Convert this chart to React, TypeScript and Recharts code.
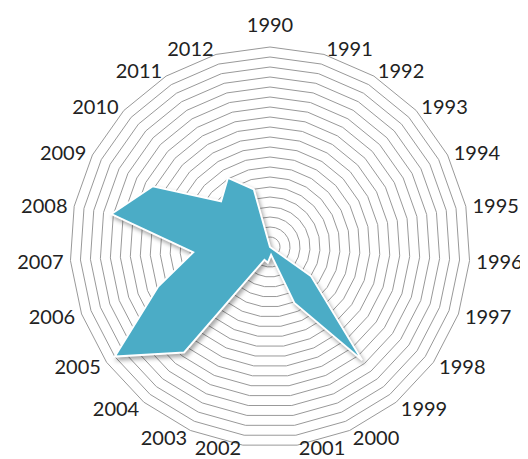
import { PolarAngleAxis, PolarGrid, PolarRadiusAxis, Radar, RadarChart } from 'recharts'

const years = [
  '1990', '1991', '1992', '1993', '1994', '1995', '1996', '1997', '1998', '1999', '2000', '2001',
  '2002', '2003', '2004', '2005', '2006', '2007', '2008', '2009', '2010', '2011', '2012',
]
const values = [0, 0, 0, 0, 0, 0, 0, 0, 50, 146, 61, 8, 16, 14, 136, 190, 119, 77, 162, 132, 67, 81, 60]

const chartData = years.map((year, i) => ({ year, value: values[i] }))

// labels sit beside the outer vertex, pushed left/right like excel does
function YearTick(props: any) {
  const { x, y, payload } = props
  const a = (payload.coordinate * Math.PI) / 180
  const c = Math.cos(a)
  const s = Math.sin(a)
  const vx = x - c
  const vy = y + s
  let tx = vx
  let ty = vy - 23.5
  if (Math.abs(c) > 0.01) {
    tx = vx + Math.sign(c) * (24 + 6 * Math.abs(c))
    ty = s < -0.95 ? vy + 2 : vy - s * 7
  }
  return (
    <text
      x={tx}
      y={ty}
      textAnchor="middle"
      dominantBaseline="central"
      fontFamily="Lato, sans-serif"
      fontSize={20}
      fill="#222"
    >
      {payload.value}
    </text>
  )
}

export default function App() {
  return (
    <div style={{ width: 520, height: 451 }}>
      <style>{`.recharts-radar-polygon { filter: drop-shadow(2px 3px 2px rgba(0,0,0,0.35)); }`}</style>
      <RadarChart width={520} height={451} data={chartData} cx={262} cy={239} outerRadius={200}>
        <PolarGrid gridType="polygon" radialLines={false} stroke="#999" strokeWidth={1} />
        <PolarRadiusAxis domain={[0, 200]} tickCount={21} tick={false} axisLine={false} />
        <PolarAngleAxis dataKey="year" tick={YearTick} tickLine={false} axisLine={false} tickSize={1} />
        <Radar dataKey="value" fill="#4bacc6" fillOpacity={1} stroke="#fff" strokeWidth={2} isAnimationActive={false} />
      </RadarChart>
    </div>
  )
}
